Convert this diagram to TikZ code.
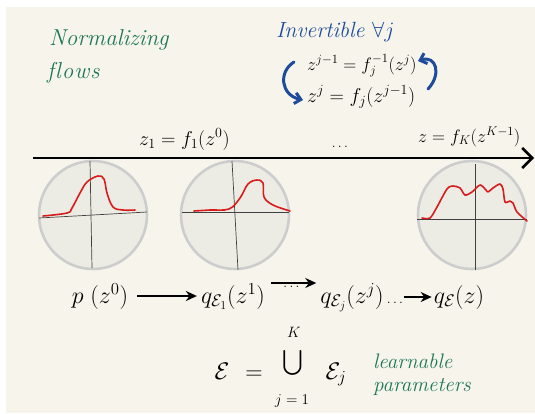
\RequirePackage{fix-cm}
\documentclass[tikz,border=0pt]{standalone}
\usepackage{amsmath}
\usetikzlibrary{arrows.meta}
\definecolor{paper}{RGB}{247,245,235}
\definecolor{fgreen}{RGB}{28,118,88}
\definecolor{fblue}{RGB}{30,75,155}
\definecolor{dred}{RGB}{215,28,28}
\definecolor{diskfill}{RGB}{236,236,229}
\definecolor{diskline}{RGB}{205,205,205}
\tikzset{
  hand/.style={font=\fontsize{20}{24}\selectfont, inner sep=1pt},
  handsmall/.style={font=\fontsize{18}{22}\selectfont, inner sep=1pt},
  bigmath/.style={font=\fontsize{24}{28}\selectfont, inner sep=1pt},
  cupfont/.style={font=\fontsize{34}{38}\selectfont, inner sep=0pt},
  limitfont/.style={font=\fontsize{15}{17}\selectfont, inner sep=0.5pt},
  smalldots/.style={font=\fontsize{14}{16}\selectfont, inner sep=1pt},
  greenhand/.style={text=fgreen, font=\fontsize{23}{27}\selectfont\itshape, inner sep=1pt},
  greensmall/.style={text=fgreen, font=\fontsize{21}{24}\selectfont\itshape, inner sep=1pt},
  bluehand/.style={text=fblue, font=\fontsize{22}{25}\selectfont\itshape, inner sep=1pt},
  disk/.style={circle, draw=diskline, line width=2.6pt, fill=diskfill, minimum size=108pt, inner sep=0pt},
  axisline/.style={draw=black!75, line width=0.7pt},
  density/.style={draw=dred, line width=1.6pt, line cap=round, line join=round},
  flow/.style={-{Stealth[length=11pt,width=10pt]}, line width=1.8pt},
  mainaxis/.style={-{Straight Barb[length=10pt,width=20pt]}, line width=2.6pt},
  bluearrow/.style={draw=fblue, -{Straight Barb[length=6pt,width=11pt]}, line width=3pt, line cap=round},
}
\begin{document}
\begin{tikzpicture}[x=1pt,y=-1pt]
\useasboundingbox (0,0) rectangle (535,413);
\fill[white] (0,0) rectangle (535,413);
\fill[paper] (6,7) rectangle (535,413);

% title
\node[greenhand, anchor=base west] (title1) at (48,45) {Normalizing};
\node[greenhand, anchor=base west] (title2) at (46,78) {f\kern1pt l\kern1pt o\kern1pt w\kern1pt s};

% invertible
\node[bluehand, anchor=base west] (invert) at (275,37) {Invertible $\forall j$};
\node[handsmall, anchor=base west] (inv) at (306,70) {$z^{j-1} = f_j^{-1}(z^j)$};
\node[hand, anchor=base west] (fwd) at (306,102) {$z^{j} = f_j(z^{j-1})$};
\coordinate (la1) at (294,62);
\coordinate (la2) at (303,100);
\coordinate (ra1) at (428,89);
\coordinate (ra2) at (418,61);
\draw[bluearrow] (la1) .. controls (278,72) and (281,95) .. (la2);
\draw[bluearrow] (ra1) .. controls (442,74) and (436,55) .. (ra2);

% main axis
\coordinate (axL) at (33,158);
\coordinate (axR) at (534,158);
\draw[mainaxis] (axL) -- (axR);
\node[hand, anchor=base west] (lab1) at (138,145) {$z_1 = f_1(z^0)$};
\node[smalldots, anchor=base] (labdots) at (341,147) {$\dots$};
\node[handsmall, anchor=base west] (labK) at (417,142) {$z = f_K(z^{K-1})$};

% disks
\node[disk] (c1) at (93,215) {};
\node[disk] (c2) at (235,215) {};
\node[disk] (c3) at (472,215) {};

\draw[axisline] (39,218) -- (147,212);
\draw[axisline] (90,161) -- (92,268);
\draw[axisline] (182,212) -- (289,212);
\draw[axisline] (232,161) -- (238,270);
\draw[axisline] (417,219) -- (527,219);
\draw[axisline] (475,164) -- (475,270);

\draw[density] plot[smooth, tension=0.6] coordinates {(43,216) (67,213) (72,208) (80,193) (87,182) (98,176) (104,179) (107,193) (113,207) (123,210) (135,210)};
\draw[density] plot[smooth, tension=0.6] coordinates {(194,211) (210,210) (229,209) (240,198) (248,184) (257,180) (263,183) (264,197) (273,205) (290,211)};
\draw[density] plot[smooth, tension=0.5] coordinates {(422,218) (430,218) (437,207) (447,189) (453,186) (460,188) (465,195) (472,192) (480,185) (486,190) (488,192) (493,188) (500,184) (503,189) (505,202) (510,201) (513,203) (517,212) (527,221)};

% bottom chain
\node[bigmath, anchor=base] (p0) at (100,303) {$p\;(z^0)$};
\node[bigmath, anchor=base] (q1) at (233,303) {$q_{\mathcal{E}_1}(z^1)$};
\node[bigmath, anchor=base] (qj) at (352,303) {$q_{\mathcal{E}_j}(z^j)$};
\node[bigmath, anchor=base] (qK) at (459,303) {$q_{\mathcal{E}}(z)$};
\draw[flow, shorten <=8pt, shorten >=3pt] ([yshift=7pt]p0.base east) -- ([yshift=7pt]q1.base west);
\draw[flow, shorten <=5pt, shorten >=3pt] ([yshift=20pt]q1.base east) -- ([yshift=20pt]qj.base west)
  node[smalldots, midway, below=1pt] (dots1) {$\dots$};
\node[smalldots, anchor=base west] (dots2) at ([xshift=1pt]qj.base east) {$\dots$};
\draw[flow, shorten <=-3pt, shorten >=1pt] ([yshift=6pt]dots2.base east) -- ([yshift=6pt]qK.base west);

% union
\node[bigmath, anchor=base] (bigE) at (222,379) {$\mathcal{E}$};
\node[bigmath, anchor=base] (eqsign) at (254,379) {$=$};
\node[cupfont, anchor=base] (cup) at (293,371) {$\bigcup$};
\node[limitfont, anchor=base] (upK) at (294,337) {$K$};
\node[limitfont, anchor=base] (lowj) at (292,404) {$j=1$};
\node[bigmath, anchor=base] (Ej) at (336,379) {$\mathcal{E}_j$};
\node[greensmall, anchor=base west] (lp1) at (372,368) {learnable};
\node[greensmall, anchor=base west] (lp2) at (372,391) {parameters};
\end{tikzpicture}
\end{document}
